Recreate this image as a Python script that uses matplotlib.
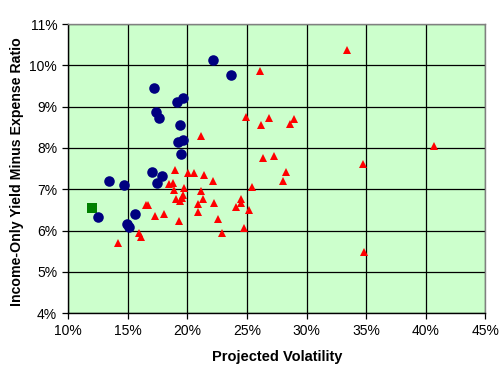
import matplotlib
matplotlib.use("Agg")
import matplotlib.pyplot as plt
from matplotlib.ticker import FuncFormatter

plt.rcParams['font.family'] = ['Liberation Sans', 'DejaVu Sans']

# Blue circles (volatility %, yield %)
blue_vol = [22.12, 23.66, 17.17, 19.63, 19.12, 17.34, 17.61, 19.38, 19.60, 19.18,
            19.46, 13.42, 14.65, 17.03, 17.86, 17.47, 12.47, 15.60, 14.90, 15.10]
blue_yld = [10.14, 9.77, 9.46, 9.21, 9.12, 8.86, 8.73, 8.56, 8.20, 8.15,
            7.85, 7.21, 7.11, 7.42, 7.33, 7.16, 6.34, 6.41, 6.15, 6.10]

# Red triangles
red_vol = [33.42, 26.12, 24.94, 26.87, 28.94, 26.20, 28.63, 21.16, 40.69, 27.29,
           26.37, 34.76, 28.30, 28.05, 34.84, 18.98, 20.07, 20.58, 21.42, 22.17,
           25.42, 18.48, 18.81, 18.87, 19.74, 19.65, 21.15, 19.00, 19.38, 19.52,
           21.31, 20.90, 22.24, 20.90, 24.52, 24.47, 24.10, 25.19, 22.59, 24.77,
           22.93, 16.50, 16.72, 17.30, 18.06, 19.32, 15.93, 16.10, 14.20]
red_yld = [10.38, 9.87, 8.75, 8.73, 8.71, 8.56, 8.58, 8.30, 8.06, 7.81,
           7.75, 7.61, 7.42, 7.20, 5.48, 7.47, 7.40, 7.40, 7.35, 7.20,
           7.06, 7.14, 7.16, 6.98, 7.04, 6.87, 6.97, 6.76, 6.72, 6.78,
           6.77, 6.65, 6.68, 6.46, 6.76, 6.66, 6.58, 6.51, 6.27, 6.07,
           5.95, 6.62, 6.62, 6.35, 6.41, 6.23, 5.94, 5.84, 5.69]

# Green square
green_vol = [12.02]
green_yld = [6.54]

x_ticks = [10, 15, 20, 25, 30, 35, 40, 45]
y_ticks = [4, 5, 6, 7, 8, 9, 10, 11]

fig = plt.figure(figsize=(5.04, 3.79), dpi=100)
ax = fig.add_axes([68.3/504, 1-313.3/379, (485.3-68.3)/504, (313.3-24)/379])
ax.set_facecolor('#CCFFCC')

ax.plot(green_vol, green_yld, linestyle='none', marker='s', markersize=7.7,
        color='#008000', markeredgewidth=0, zorder=3)
ax.plot(red_vol, red_yld, linestyle='none', marker='^', markersize=5.2,
        color='#FF0000', markeredgewidth=0, zorder=4)
ax.plot(blue_vol, blue_yld, linestyle='none', marker='o', markersize=7.6,
        color='#000080', markeredgewidth=0, zorder=5)

ax.set_xlim(10, 45)
ax.set_ylim(4, 11)
ax.set_xticks(x_ticks)
ax.set_yticks(y_ticks)
fmt = FuncFormatter(lambda v, p: f"{v:.0f}%")
ax.xaxis.set_major_formatter(fmt)
ax.yaxis.set_major_formatter(fmt)
ax.grid(True, color='black', linewidth=0.9)
ax.set_axisbelow(True)

for s in ['left', 'bottom']:
    ax.spines[s].set_color('black')
    ax.spines[s].set_linewidth(1.0)
for s in ['top', 'right']:
    ax.spines[s].set_color('#808080')
    ax.spines[s].set_linewidth(1.0)

ax.tick_params(direction='out', length=4, width=0.9, labelsize=10, colors='black', pad=4)

ax.set_xlabel('Projected Volatility', fontsize=10.5, fontweight='bold', labelpad=8)
ax.set_ylabel('Income-Only Yield Minus Expense Ratio', fontsize=10.2, fontweight='bold', labelpad=4)
ax.yaxis.label.set_y(0.49)

fig.savefig('out.png', dpi=100)
